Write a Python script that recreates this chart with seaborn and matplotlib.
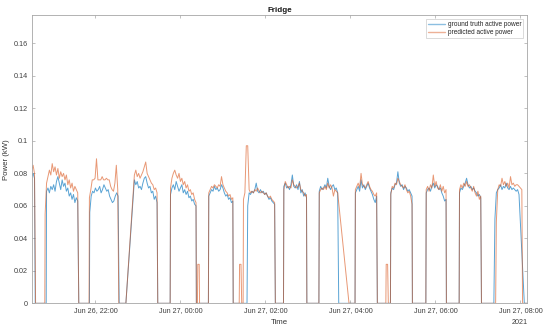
import pandas as pd
import numpy as np
import matplotlib
matplotlib.use("Agg")
import matplotlib.pyplot as plt
import matplotlib.dates as mdates
from matplotlib.lines import Line2D
import seaborn as sns

# Time base of the recording (minutes are counted from here)
t0 = pd.Timestamp("2021-06-26 20:30")
sample_step = 2  # minutes between samples inside an "on" cycle
series_end = 700

# Ground truth: one entry per fridge compressor cycle
gt_start = [0, 21, 82, 145, 196, 250, 305, 356, 406, 457, 507, 557, 604, 654]
gt_rise = [-1, 20.5, 81.5, 133, 195.5, 249.5, 304, 355.5, 405.5, 456.5, 506.5, 556.5, 603.5, 652.5]
gt_fall = [5, 66.5, 123.5, 178, 232.5, 284.5, 344, 388.5, 433.5, 488, 537.5, 585.5, 635, 695.5]
gt_values = [
    [0.078, 0.080, 0.077],
    [0.069, 0.071, 0.068, 0.072, 0.070, 0.073, 0.069, 0.075, 0.078, 0.074, 0.070, 0.076,
     0.072, 0.074, 0.069, 0.071, 0.066, 0.068, 0.064, 0.067, 0.062, 0.065, 0.063],
    [0.056, 0.066, 0.069, 0.068, 0.071, 0.069, 0.070, 0.072, 0.068, 0.070, 0.073, 0.071,
     0.069, 0.070, 0.066, 0.064, 0.062, 0.063, 0.066, 0.068, 0.066],
    [0.076, 0.073, 0.075, 0.071, 0.072, 0.070, 0.074, 0.077, 0.078, 0.074, 0.071, 0.072,
     0.068, 0.069, 0.064, 0.066, 0.062],
    [0.067, 0.071, 0.073, 0.070, 0.075, 0.072, 0.069, 0.071, 0.073, 0.068, 0.070, 0.067,
     0.069, 0.065, 0.066, 0.063, 0.064, 0.061, 0.060],
    [0.066, 0.068, 0.070, 0.069, 0.072, 0.070, 0.071, 0.069, 0.070, 0.073, 0.071, 0.068,
     0.066, 0.067, 0.064, 0.065, 0.062, 0.063],
    [0.060, 0.068, 0.067, 0.069, 0.068, 0.070, 0.074, 0.069, 0.068, 0.070, 0.068, 0.069,
     0.067, 0.068, 0.066, 0.064, 0.065, 0.063, 0.062, 0.061],
    [0.072, 0.074, 0.071, 0.072, 0.070, 0.073, 0.079, 0.072, 0.071, 0.073, 0.070, 0.075,
     0.068, 0.070, 0.066, 0.068, 0.065],
    [0.069, 0.072, 0.070, 0.071, 0.073, 0.071, 0.077, 0.072, 0.070, 0.072, 0.073, 0.070,
     0.071, 0.068],
    [0.068, 0.070, 0.072, 0.069, 0.076, 0.071, 0.073, 0.070, 0.072, 0.074, 0.071, 0.069,
     0.067, 0.064, 0.062, 0.066],
    [0.068, 0.071, 0.070, 0.073, 0.074, 0.081, 0.074, 0.072, 0.073, 0.070, 0.072, 0.071,
     0.069, 0.070, 0.068, 0.066],
    [0.068, 0.070, 0.071, 0.069, 0.072, 0.074, 0.071, 0.073, 0.072, 0.070, 0.071, 0.068,
     0.066, 0.063, 0.064],
    [0.068, 0.071, 0.070, 0.072, 0.074, 0.077, 0.073, 0.071, 0.072, 0.070, 0.071, 0.069,
     0.068, 0.066, 0.067, 0.065],
    [0.052, 0.068, 0.070, 0.071, 0.073, 0.070, 0.072, 0.071, 0.074, 0.071, 0.070, 0.072,
     0.070, 0.071, 0.070, 0.069, 0.070, 0.067],
]

# Prediction: same cycles plus the short false-positive blips
pred_start = [0, 19, 81.5, 145, 196, 234.5, 250, 293.5, 299, 356, 406, 457, 500.5, 507, 557, 604, 656]
pred_rise = [-1, 18.5, 81, 133, 195.5, 234, 249.5, 293, 298.5, 355.5, 405.5, 456.5, 500, 506.5, 556.5, 603.5, 655]
pred_fall = [5.5, 66.5, 123, 178, 232.5, 237, 284.5, 296.5, 344, 388.5, 448, 488, 503.5, 537.5, 585.5, 635, 693]
pred_values = [
    [0.082, 0.085, 0.080],
    [0.055, 0.074, 0.078, 0.082, 0.079, 0.086, 0.081, 0.084, 0.079, 0.083, 0.077, 0.081,
     0.078, 0.080, 0.076, 0.079, 0.073, 0.076, 0.071, 0.074, 0.069, 0.072, 0.070, 0.068],
    [0.065, 0.070, 0.076, 0.076, 0.077, 0.089, 0.076, 0.076, 0.076, 0.078, 0.076, 0.076,
     0.077, 0.076, 0.076, 0.072, 0.070, 0.069, 0.074, 0.085, 0.070],
    [0.079, 0.082, 0.078, 0.080, 0.077, 0.079, 0.081, 0.084, 0.087, 0.080, 0.078, 0.076,
     0.074, 0.073, 0.070, 0.071, 0.068],
    [0.071, 0.077, 0.080, 0.082, 0.079, 0.077, 0.080, 0.075, 0.077, 0.073, 0.075, 0.071,
     0.073, 0.069, 0.070, 0.067, 0.068, 0.064, 0.062],
    [0.024, 0.024],
    [0.068, 0.070, 0.072, 0.071, 0.073, 0.072, 0.071, 0.073, 0.072, 0.078, 0.073, 0.071,
     0.069, 0.068, 0.066, 0.067, 0.064, 0.065],
    [0.024, 0.024],
    [0.064, 0.068, 0.097, 0.097, 0.070, 0.068, 0.069, 0.068, 0.070, 0.069, 0.071, 0.069,
     0.068, 0.069, 0.068, 0.067, 0.068, 0.066, 0.065, 0.066, 0.064, 0.063, 0.062],
    [0.070, 0.075, 0.073, 0.071, 0.072, 0.071, 0.076, 0.073, 0.072, 0.071, 0.072, 0.074,
     0.070, 0.069, 0.068, 0.066, 0.067],
    [0.068, 0.070, 0.071, 0.070, 0.072, 0.070, 0.074, 0.071, 0.073, 0.071, 0.066, 0.070,
     0.069, 0.068],
    [0.070, 0.072, 0.074, 0.071, 0.080, 0.073, 0.072, 0.071, 0.073, 0.075, 0.072, 0.070,
     0.069, 0.067, 0.066, 0.068],
    [0.024, 0.024],
    [0.067, 0.072, 0.071, 0.074, 0.073, 0.077, 0.075, 0.073, 0.072, 0.071, 0.073, 0.070,
     0.068, 0.069, 0.066, 0.061],
    [0.070, 0.072, 0.069, 0.073, 0.071, 0.079, 0.072, 0.075, 0.071, 0.070, 0.073, 0.069,
     0.072, 0.068, 0.070],
    [0.070, 0.073, 0.071, 0.074, 0.072, 0.075, 0.072, 0.073, 0.071, 0.069, 0.072, 0.068,
     0.066, 0.069, 0.064, 0.066],
    [0.050, 0.070, 0.073, 0.072, 0.077, 0.073, 0.075, 0.072, 0.074, 0.071, 0.078, 0.073,
     0.074, 0.072, 0.073, 0.073, 0.072, 0.071, 0.070],
]

labels = ["ground truth active power", "predicted active power"]
colors = ["#0072BD", "#D95319"]


def build_series(starts, rises, falls, values):
    # stitch the cycles together, power is zero between them
    minutes, power = [], []
    for s, r, f, vals in zip(starts, rises, falls, values):
        minutes.append(r)
        power.append(0.0)
        for i, val in enumerate(vals):
            minutes.append(s + sample_step * i)
            power.append(val)
        minutes.append(f)
        power.append(0.0)
    minutes.append(series_end)
    power.append(0.0)
    return pd.DataFrame({"time": t0 + pd.to_timedelta(minutes, unit="m"), "power": power})


gt_df = build_series(gt_start, gt_rise, gt_fall, gt_values)
pred_df = build_series(pred_start, pred_rise, pred_fall, pred_values)

sns.set_style("ticks")
plt.rcParams["font.family"] = ["Liberation Sans", "DejaVu Sans"]

fig = plt.figure(figsize=(5.5, 3.35), dpi=100)
ax = fig.add_axes([0.0576, 0.0946, 0.9006, 0.8606])

sns.lineplot(data=gt_df, x="time", y="power", ax=ax, estimator=None, sort=False,
             color=colors[0], alpha=0.65, linewidth=0.7, legend=False)
sns.lineplot(data=pred_df, x="time", y="power", ax=ax, estimator=None, sort=False,
             color=colors[1], alpha=0.6, linewidth=0.7, legend=False)

ax.set_xlim(t0, t0 + pd.Timedelta(minutes=699.3))
ax.set_ylim(0, 0.1775)
ax.set_yticks(np.arange(0, 0.161, 0.02))
ax.yaxis.set_major_formatter(plt.FuncFormatter(lambda v, p: f"{v:g}"))
ax.xaxis.set_major_locator(mdates.HourLocator(byhour=[0, 2, 4, 6, 8, 22]))
ax.xaxis.set_major_formatter(mdates.DateFormatter("%b %d, %H:%M"))

for sp in ax.spines.values():
    sp.set_visible(True)
    sp.set_color("#a6a6a6")
    sp.set_linewidth(0.6)
ax.tick_params(direction="in", length=2.5, width=0.5, top=True, right=True,
               labelsize=5.2, colors="#a6a6a6", labelcolor="#404040", pad=3)

ax.set_title("Fridge", fontsize=5.8, fontweight="bold", color="#1a1a1a", pad=2.5)
ax.set_xlabel("Time", fontsize=5.6, color="#333333", labelpad=3)
ax.set_ylabel("Power (kW)", fontsize=5.6, color="#333333", labelpad=2)

# year shown under the last tick, as MATLAB does
ax.text(t0 + pd.Timedelta(minutes=689), -0.0118, "2021", transform=ax.transData,
        ha="center", va="center", fontsize=5.2, color="#404040", clip_on=False)

handles = [Line2D([], [], color=c, alpha=0.45, linewidth=1.0) for c in colors]
leg = ax.legend(handles, labels, loc="upper right", fontsize=4.7, frameon=True, fancybox=False,
                edgecolor="#c0c0c0", handlelength=2.6, handletextpad=0.4,
                borderpad=0.3, labelspacing=0.15, borderaxespad=0.6)
leg.get_frame().set_linewidth(0.5)

fig.savefig("out.png", dpi=100)
